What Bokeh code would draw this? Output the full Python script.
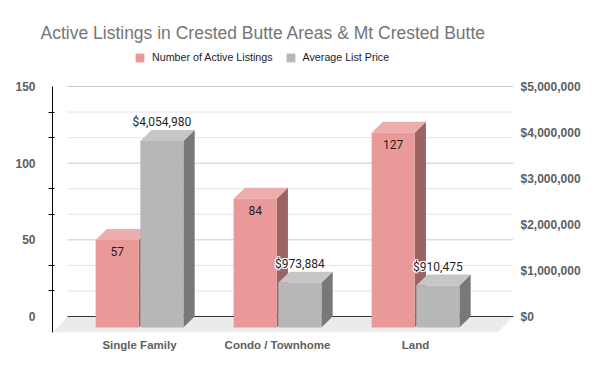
from bokeh.plotting import figure
from bokeh.models import (Range1d, LinearAxis, FixedTicker, NumeralTickFormatter,
                          Legend, LegendItem, ColumnDataSource)
from bokeh.core.properties import value
from bokeh.embed import file_html
from bokeh.resources import INLINE

# ---------------- data ----------------
categories = ["Single Family", "Condo / Townhome", "Land"]
listings = [57, 84, 127]
avg_price = [4054980, 973884, 910475]
listing_labels = ["57", "84", "127"]
price_labels = ["$4,054,980", "$973,884", "$910,475"]
series_names = ["Number of Active Listings", "Average List Price"]
left_ticks = [0, 50, 100, 150]
left_minor = [50 / 3, 100 / 3, 200 / 3, 250 / 3, 350 / 3, 400 / 3]
right_ticks = [0, 1000000, 2000000, 3000000, 4000000, 5000000]
title_text = "Active Listings in Crested Butte Areas & Mt Crested Butte"

# ---------------- geometry / style ----------------
PINK, PINK_TOP, PINK_SIDE = "#ea9999", "#eeadad", "#9a6464"
GREY, GREY_TOP, GREY_SIDE = "#b7b7b7", "#c6c6c6", "#787878"

FRAME_TOP = 47            # canvas px of frame top
PX_X = 138.0              # pixels per category unit
PX_Y = 230 / 150          # pixels per listing
PX_P = 230 / 5000000      # pixels per dollar
X0 = 0.3696
X1 = X0 + 461 / PX_X
Y0 = -16 / PX_Y
Y1 = 150 + (86 - FRAME_TOP) / PX_Y
P0 = -16 / PX_P
P1 = 5000000 + (86 - FRAME_TOP) / PX_P
DX = 11.3 / PX_X
DY = 11 / PX_Y
DYP = 11 / PX_P
BW, GAP = 0.312, 0.006
FLOOR_DX = 15 / PX_X

xs = [i + 1 for i in range(len(categories))]

p = figure(width=590, height=360, output_backend="svg", toolbar_location=None,
           x_range=Range1d(X0, X1), y_range=Range1d(Y0, Y1),
           min_border_left=52, min_border_right=77, min_border_top=FRAME_TOP,
           min_border_bottom=28)
p.extra_y_ranges = {"price": Range1d(P0, P1)}
p.outline_line_color = None
p.xgrid.visible = False
p.ygrid.visible = False
p.background_fill_color = "white"

# title
p.title.text = title_text
p.title.align = "left"
p.title.offset = -12
p.title.text_font = "Liberation Sans"
p.title.text_font_size = "17.5px"
p.title.text_font_style = "normal"
p.title.text_color = "#757575"

# floor
p.patch([X0, X0 + FLOOR_DX, X1, X1 - 16 / PX_X], [Y0, 0, 0, Y0],
        fill_color="#ebebeb", line_color=None)

# gridlines
all_grid = sorted(left_ticks + left_minor)
gx0 = X0 + FLOOR_DX
for g in all_grid:
    if g == 0:
        continue
    major = any(abs(g - t) < 1e-6 for t in left_ticks)
    p.segment(x0=[gx0], y0=[g], x1=[X1], y1=[g],
              line_color="#cccccc" if major else "#e4e4e4", line_width=1)
p.segment(x0=[gx0], y0=[0], x1=[X1], y1=[0], line_color="#333333", line_width=1)


def faces(lefts, rights, vals, d, color, ctop, cside, rng):
    kw = {} if rng is None else {"y_range_name": rng}
    side_xs = [[r, r + DX, r + DX, r] for r in rights]
    side_ys = [[v - d, v, 0, -d] for v in vals]
    p.patches(side_xs, side_ys, fill_color=cside, line_color=None, **kw)
    top_xs = [[l, l + DX, r + DX, r] for l, r in zip(lefts, rights)]
    top_ys = [[v - d, v, v, v - d] for v in vals]
    p.patches(top_xs, top_ys, fill_color=ctop, line_color=None, **kw)
    src = ColumnDataSource(dict(left=lefts, right=rights,
                                bottom=[-d] * len(vals), top=[v - d for v in vals]))
    return p.quad(left="left", right="right", bottom="bottom", top="top",
                  source=src, fill_color=color, line_color=None, **kw)


pink_l = [x - GAP - BW for x in xs]
pink_r = [x - GAP for x in xs]
grey_l = [x + GAP for x in xs]
grey_r = [x + GAP + BW for x in xs]

r_pink = faces(pink_l, pink_r, listings, DY, PINK, PINK_TOP, PINK_SIDE, None)
r_grey = faces(grey_l, grey_r, avg_price, DYP, GREY, GREY_TOP, GREY_SIDE, "price")

# data labels
lab_src = ColumnDataSource(dict(x=[x - GAP - BW / 2 for x in xs],
                                y=[v - DY - 7.5 for v in listings],
                                t=listing_labels))
p.text(x="x", y="y", text="t", source=lab_src, text_align="center",
       text_baseline="middle", text_font=value("Roboto"), text_font_size="12px",
       text_color="#1f1f1f")
plab_src = ColumnDataSource(dict(x=[x + GAP + BW / 2 for x in xs],
                                 y=[v + 8 / PX_P for v in avg_price],
                                 t=price_labels))
for ox, oy in [(-1, 0), (1, 0), (0, -1), (0, 1), (-1, -1), (1, 1), (-1, 1), (1, -1)]:
    p.text(x="x", y="y", text="t", source=plab_src, text_align="center",
           text_baseline="middle", text_font=value("Roboto"), text_font_size="12px",
           text_color="white", x_offset=ox, y_offset=oy, y_range_name="price")
p.text(x="x", y="y", text="t", source=plab_src, text_align="center",
       text_baseline="middle", text_font=value("Roboto"), text_font_size="12px",
       text_color="#1f1f1f", y_range_name="price")

# axes
AX_COLOR = "#5e5e5e"
xa = p.xaxis[0]
xa.ticker = FixedTicker(ticks=xs)
xa.major_label_overrides = {x: c for x, c in zip(xs, categories)}
xa.axis_line_color = None
xa.major_tick_line_color = None
xa.minor_tick_line_color = None
xa.major_tick_out = 0
xa.major_label_standoff = 6
xa.major_label_text_font = "Liberation Sans"
xa.major_label_text_font_style = "bold"
xa.major_label_text_font_size = "11.5px"
xa.major_label_text_color = AX_COLOR

ya = p.yaxis[0]
ya.ticker = FixedTicker(ticks=left_ticks, minor_ticks=left_minor)
ya.bounds = (Y0, 150)
ya.axis_line_color = "black"
ya.major_tick_line_color = None
ya.major_tick_out = 0
ya.major_tick_in = 0
ya.minor_tick_line_color = "black"
ya.minor_tick_out = 4
ya.minor_tick_in = 2
ya.major_label_standoff = 13
ya.major_label_text_font = "Liberation Sans"
ya.major_label_text_font_style = "bold"
ya.major_label_text_font_size = "12px"
ya.major_label_text_color = AX_COLOR

ra = LinearAxis(y_range_name="price", ticker=FixedTicker(ticks=right_ticks),
                formatter=NumeralTickFormatter(format="$0,0"))
ra.axis_line_color = None
ra.major_tick_line_color = None
ra.minor_tick_line_color = None
ra.major_tick_out = 0
ra.major_label_standoff = 7
ra.major_label_text_font = "Liberation Sans"
ra.major_label_text_font_style = "bold"
ra.major_label_text_font_size = "12px"
ra.major_label_text_color = AX_COLOR
p.add_layout(ra, "right")

# legend
legend = Legend(items=[LegendItem(label=series_names[0], renderers=[r_pink]),
                       LegendItem(label=series_names[1], renderers=[r_grey])],
                orientation="horizontal", location=(82, 269),
                glyph_width=11, glyph_height=11, label_height=12,
                label_standoff=7, spacing=12, padding=0, margin=0,
                border_line_color=None, background_fill_alpha=0,
                label_text_font="Liberation Sans", label_text_font_size="10.7px",
                label_text_color="#222222")
p.add_layout(legend, "center")

open("out.html", "w").write(file_html(p, INLINE))
